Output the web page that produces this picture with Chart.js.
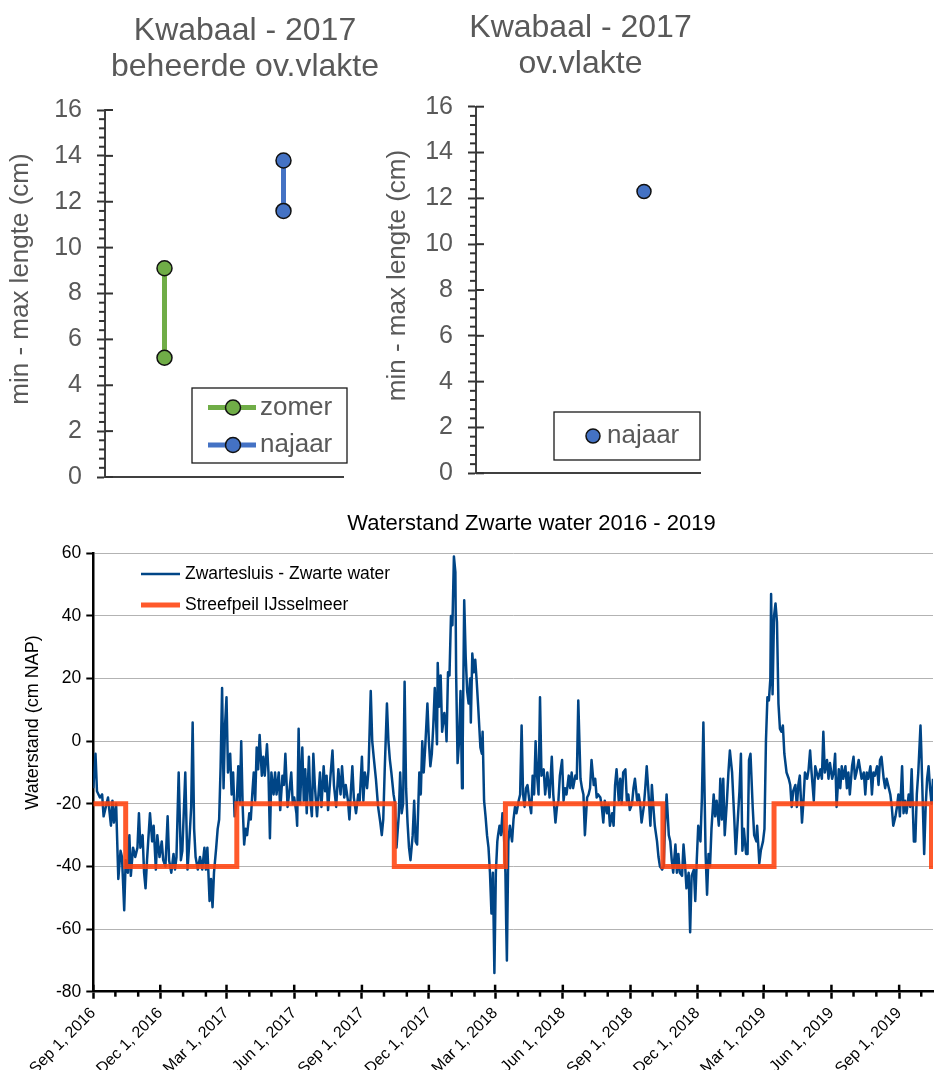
<!DOCTYPE html>
<html><head><meta charset="utf-8">
<script src="https://cdn.jsdelivr.net/npm/chart.js@4.4.1/dist/chart.umd.min.js"></script>
<style>
html,body{margin:0;padding:0;overflow:hidden;background:#fff;width:934px;height:1070px;}
canvas{position:absolute;}
</style></head><body>
<canvas id="cA" width="490" height="512" style="left:0;top:0;width:490px;height:512px"></canvas>
<canvas id="cB" width="401" height="512" style="left:380px;top:0;width:401px;height:512px"></canvas>
<canvas id="cC" width="1063" height="570" style="left:0;top:500px;width:1063px;height:570px"></canvas>
<script>
// ---------- data: top charts ----------
const groups = ['zomer', 'najaar'];
const groupColors = ['#70AD47', '#4472C4'];
const beheerdeMax = [9.1, 13.8];
const beheerdeMin = [5.2, 11.6];
const ovVlakteGroups = ['najaar'];
const ovVlakteValue = [12.3];

// ---------- data: water level ----------
const startDate = '2016-09-01';           // day 0
const axisEndDate = '2019-10-17';
// days since startDate
const levelDay = [0,3,5,9,12,14,17,20,24,26,28,31,34,37,39,42,44,47,49,51,54,57,60,62,64,67,69,71,73,77,80,82,85,87,90,93,95,98,101,103,106,109,111,113,116,119,121,125,128,130,133,135,137,139,142,145,148,151,153,155,158,160,162,164,167,169,171,173,175,177,179,181,183,186,188,190,192,195,197,199,201,203,205,207,209,212,214,216,218,220,222,224,226,229,231,233,236,238,240,242,245,247,249,252,254,257,259,261,264,266,269,271,273,276,277,279,281,284,286,288,290,293,295,297,299,301,304,306,308,310,313,315,317,319,
322,325,327,330,333,336,338,341,343,346,348,350,352,354,357,360,362,365,367,369,372,374,377,379,381,384,387,390,392,394,396,399,401,403,405,408,410,412,415,417,419,421,423,425,427,429,431,434,436,438,440,443,445,447,449,451,454,456,458,460,462,464,467,468,470,472,474,477,479,480,482,484,486,488,490,492,493,495,497,499,501,502,504,506,508,510,512,513,515,517,519,521,523,526,528,529,531,533,535,537,539,541,543,545,547,549,550,552,554,556,558,560,561,562,564,566,569,571,573,575,578,580,582,584,586,588,590,593,595,597,599,601,603,605,607,
609,612,614,617,620,623,625,628,630,632,634,637,639,641,643,646,648,650,652,655,657,659,662,664,666,668,671,673,675,677,680,682,684,686,689,691,693,695,698,700,702,705,707,709,711,714,716,718,720,723,725,727,729,732,734,736,739,741,743,745,748,750,752,754,757,759,761,763,766,768,770,773,775,777,779,782,784,786,788,791,793,795,797,800,802,804,806,809,811,813,816,818,820,822,825,827,829,830,832,834,836,838,840,843,845,847,850,852,854,856,858,861,863,865,868,871,873,875,878,880,882,884,887,889,891,893,896,898,901,902,905,907,910,912,914,916,918,920,921,923,925,927,929,931,933,935,937,939,942,945,947,949,951,954,956,958,960,963,965,967,970,972,974,976,979,981,983,985,988,990,992,994,997,999,1001,1004,1006,1008,1010,1013,1015,1017,1019,1022,1024,1026,1028,1031,1033,1035,1037,1040,1042,1044,1047,1049,1051,1053,1056,1058,1060,1062,1065,1067,1069,1071,1074,1076,1078,1081,1083,1085,1087,1090,1092,1094,1096,1099,1101,1103,1105,1108,1110,1112,1115,1117,1119,1121,1124,1125,1127,1129,1131,1133,1135,1137,1139,1141];
// water level, cm NAP
const levelCm = [-15,-4,-16,-18,-17,-24,-21,-18,-27,-19,-26,-20,-44,-35,-37,-54,-38,-42,-30,-43,-34,-37,-34,-23,-34,-30,-42,-47,-38,-23,-32,-27,-41,-30,-37,-32,-38,-40,-24,-38,-42,-36,-41,-37,-10,-38,-35,-10,-41,-34,-21,6,-28,-37,-41,-37,-41,-34,-41,-34,-51,-44,-53,-42,-34,-28,-25,-8,17,-15,5,14,-10,-4,-17,-10,-24,-19,-8,-20,0,-21,-33,-28,-30,-23,-25,-17,-10,-19,-2,-9,2,-11,-5,-11,-1,-10,-31,-10,-17,-10,-17,-10,-22,-11,-14,-4,-21,-17,-10,-20,-18,-23,-27,4,-20,-2,-19,-9,-23,-5,-19,-24,-4,-14,-24,-17,-10,-21,-8,-16,-11,-22,
-12,-3,-14,-21,-9,-17,-8,-18,-14,-19,-25,-16,-8,-18,-23,-17,-19,-5,-19,-10,-15,-9,16,0,-5,-12,-21,-26,-30,-25,-9,12,0,-6,-10,-17,-20,-34,-24,-10,-23,-20,19,-15,-26,-34,-38,-30,-19,-32,-33,-10,-17,0,-10,-2,12,0,-8,-4,5,17,-1,25,11,21,3,9,5,0,22,21,40,37,59,54,22,-7,0,16,-15,0,45,27,16,12,20,6,28,22,26,19,11,-2,-4,3,-19,-24,-30,-34,-42,-55,-42,-74,-42,-32,-30,-27,-30,-23,-30,-42,-58,-70,-32,-27,-32,-25,-21,-23,-19,-17,5,-17,-21,-15,-14,-20,-23,-11,-17,0,-11,-17,14,
-11,-9,-17,-10,-18,-5,-17,-26,-21,-19,-11,-6,-19,-15,-17,-11,-15,-10,-15,-11,-12,13,-12,-15,-17,-30,-18,-17,-15,-6,-14,-12,-18,-17,-18,-21,-26,-19,-23,-20,-27,-23,-27,-14,-9,-19,-12,-20,-10,-9,-19,-17,-22,-20,-15,-12,-19,-17,-20,-26,-21,-15,-8,-15,-27,-14,-21,-27,-32,-37,-40,-41,-40,-26,-17,-30,-32,-38,-42,-33,-42,-36,-42,-43,-33,-39,-47,-42,-61,-43,-41,-51,-38,-27,-32,-18,6,-8,-36,-49,-36,-40,-28,-17,-24,-19,-27,-12,-25,-12,-30,-19,-10,-3,-10,-25,-36,-28,-16,-4,-35,-28,-36,-36,-6,-4,-21,-30,-32,-27,-39,-35,-32,-28,0,14,13,20,47,15,40,44,38,12,4,3,5,-4,-10,-12,-14,-21,-16,-14,-21,-14,-11,-26,-19,-10,-12,-9,-3,-10,-19,-8,-10,-12,-9,-12,3,-10,-6,-12,-7,-12,-10,-4,-21,-9,-15,-8,-12,-8,-15,-10,-17,-8,-5,-12,-10,-6,-9,-12,-10,-17,-10,-12,-8,-17,-10,-11,-8,-14,-6,-5,-12,-15,-12,-15,-17,-21,-27,-24,-21,-17,-24,-8,-23,-19,-23,-17,-21,-9,-32,-32,-17,-10,5,-2,-19,-36,-21,-12,-8,-15,-20,-12];
// Streefpeil IJsselmeer: date of change and new level (cm NAP)
const targetDates = ['2016-09-01','2016-10-15','2017-03-15','2017-10-15','2018-03-15','2018-10-15','2019-03-15','2019-10-15','2019-10-20'];
const targetCm = [-20,-40,-20,-40,-20,-40,-20,-40,-40];
// axis tick dates / labels
const tickDates = ['2016-09-01','2016-12-01','2017-03-01','2017-06-01','2017-09-01','2017-12-01','2018-03-01','2018-06-01','2018-09-01','2018-12-01','2019-03-01','2019-06-01','2019-09-01'];
const tickLabels = ['Sep 1, 2016','Dec 1, 2016','Mar 1, 2017','Jun 1, 2017','Sep 1, 2017','Dec 1, 2017','Mar 1, 2018','Jun 1, 2018','Sep 1, 2018','Dec 1, 2018','Mar 1, 2019','Jun 1, 2019','Sep 1, 2019'];
const seriesNames = ['Zwartesluis - Zwarte water', 'Streefpeil IJsselmeer'];

// ---------- helpers ----------
const FONT = "'Liberation Sans', Arial, Helvetica, sans-serif";
const GRAY = '#595959';
const DAY = 86400000;
function utc(s){ const p = s.split('-').map(Number); return Date.UTC(p[0], p[1]-1, p[2]); }
const t0 = utc(startDate);
function dayOf(s){ return Math.round((utc(s) - t0) / DAY); }
const axisEnd = dayOf(axisEndDate);
const monthStarts = [];
{ let y = 2016, m = 8; while (true) { const d = Math.round((Date.UTC(y, m, 1) - t0) / DAY); if (d > axisEnd) break; monthStarts.push(d); m++; if (m > 11) { m = 0; y++; } } }
const majorDays = new Set(tickDates.map(dayOf));

// ---------- plugins ----------
const yMinorTicks = {
  id: 'yMinorTicks',
  afterDraw(chart) {
    const s = chart.scales.y, ctx = chart.ctx, x = chart.chartArea.left;
    ctx.save(); ctx.strokeStyle = '#333'; ctx.lineWidth = 2;
    for (let i = 0; i <= 40; i++) {
      const y = s.getPixelForValue(i * 0.4);
      ctx.beginPath();
      if (i % 5 === 0) { ctx.moveTo(x, y); ctx.lineTo(x + 8, y); }
      else { ctx.moveTo(x - 6, y); ctx.lineTo(x, y); }
      ctx.stroke();
    }
    ctx.restore();
  }
};
const boxLegend = {
  id: 'boxLegend',
  afterDraw(chart, args, o) {
    const ctx = chart.ctx;
    ctx.save();
    ctx.strokeStyle = '#1a1a1a'; ctx.lineWidth = 1.3;
    ctx.strokeRect(o.box[0], o.box[1], o.box[2], o.box[3]);
    ctx.font = o.size + 'px ' + FONT; ctx.textBaseline = 'middle'; ctx.textAlign = 'left';
    chart.data.datasets.forEach((ds, i) => {
      const y = o.rows[i];
      if (o.lineX) {
        ctx.strokeStyle = ds.borderColor; ctx.lineWidth = ds.borderWidth;
        ctx.beginPath(); ctx.moveTo(o.lineX[0], y); ctx.lineTo(o.lineX[1], y); ctx.stroke();
      }
      ctx.beginPath(); ctx.arc(o.markX, y, ds.pointRadius, 0, Math.PI * 2);
      ctx.fillStyle = ds.pointBackgroundColor; ctx.fill();
      ctx.lineWidth = ds.pointBorderWidth; ctx.strokeStyle = ds.pointBorderColor; ctx.stroke();
      ctx.fillStyle = GRAY; ctx.fillText(ds.label, o.textX, y);
    });
    ctx.restore();
  }
};
const xMinorTicks = {
  id: 'xMinorTicks',
  afterDraw(chart) {
    const s = chart.scales.x, ctx = chart.ctx, y = chart.chartArea.bottom;
    ctx.save(); ctx.strokeStyle = '#000'; ctx.lineWidth = 2.5;
    monthStarts.forEach(d => {
      const x = s.getPixelForValue(d);
      ctx.beginPath();
      if (majorDays.has(d)) { ctx.moveTo(x, y - 7); ctx.lineTo(x, y); }
      else { ctx.moveTo(x, y); ctx.lineTo(x, y + 5); }
      ctx.stroke();
    });
    ctx.restore();
  }
};
const lineLegend = {
  id: 'lineLegend',
  afterDraw(chart, args, o) {
    const ctx = chart.ctx;
    ctx.save();
    ctx.font = o.size + 'px ' + FONT; ctx.textBaseline = 'middle'; ctx.textAlign = 'left'; ctx.fillStyle = '#000';
    chart.data.datasets.forEach((ds, i) => {
      const y = o.y0 + i * o.dy;
      ctx.strokeStyle = ds.borderColor; ctx.lineWidth = ds.borderWidth; ctx.lineCap = 'butt';
      ctx.beginPath(); ctx.moveTo(o.x0, y); ctx.lineTo(o.x1, y); ctx.stroke();
      ctx.fillText(ds.label, o.tx, y);
    });
    ctx.restore();
  }
};

// ---------- top chart factory ----------
function topOptions(cfg) {
  return {
    responsive: false, animation: false, events: [],
    layout: { padding: 0 },
    plugins: {
      legend: { display: false }, tooltip: { enabled: false },
      title: { display: true, text: cfg.title, color: GRAY,
        font: { family: FONT, size: 32, weight: 'normal', lineHeight: 1.125 },
        padding: { top: cfg.titleTop, bottom: cfg.titleBottom } },
      boxLegend: cfg.legend
    },
    scales: {
      x: { type: 'category', offset: true,
        ticks: { display: false }, grid: { display: false },
        border: { display: true, color: '#404040', width: 2 },
        afterFit: s => { s.height = cfg.xh; } },
      y: { type: 'linear', min: 0, max: 16,
        ticks: { stepSize: 2, color: GRAY, font: { family: FONT, size: 25 }, padding: 15 },
        grid: { drawOnChartArea: false, tickLength: 8, tickColor: '#333', tickWidth: 2 },
        border: { display: true, color: '#404040', width: 2 },
        title: { display: true, text: '    min - max lengte (cm)', color: GRAY,
          font: { family: FONT, size: 26, lineHeight: 1.2 }, padding: { top: cfg.ytPad, bottom: 0 } },
        afterFit: s => { s.width = cfg.yw; } },
      pad: { type: 'linear', axis: 'y', position: 'right', display: true,
        ticks: { display: false }, grid: { display: false }, border: { display: false },
        afterFit: s => { s.width = cfg.rw; } }
    }
  };
}

new Chart(document.getElementById('cA'), {
  type: 'line',
  data: {
    labels: groups,
    datasets: groups.map((g, i) => ({
      label: g,
      data: [{ x: g, y: beheerdeMax[i] }, { x: g, y: beheerdeMin[i] }],
      borderColor: groupColors[i], backgroundColor: groupColors[i], borderWidth: 5,
      pointRadius: 7.5, pointBorderWidth: 1.5, pointBorderColor: '#111', pointBackgroundColor: groupColors[i]
    }))
  },
  options: topOptions({
    title: ['Kwabaal - 2017', 'beheerde ov.vlakte'], titleTop: 13, titleBottom: 25,
    xh: 35, yw: 105, rw: 147, ytPad: 5.4,
    legend: { box: [192, 388, 155, 75], rows: [407.5, 445], lineX: [208, 256], markX: 233, textX: 260, size: 26 }
  }),
  plugins: [yMinorTicks, boxLegend]
});

new Chart(document.getElementById('cB'), {
  type: 'line',
  data: {
    labels: groups,
    datasets: ovVlakteGroups.map((g, i) => ({
      label: g,
      data: [{ x: g, y: ovVlakteValue[i] }],
      showLine: false,
      borderColor: groupColors[groups.indexOf(g)], backgroundColor: groupColors[groups.indexOf(g)], borderWidth: 5,
      pointRadius: 7, pointBorderWidth: 1.5, pointBorderColor: '#111', pointBackgroundColor: groupColors[groups.indexOf(g)]
    }))
  },
  options: topOptions({
    title: ['Kwabaal - 2017', 'ov.vlakte'], titleTop: 10.6, titleBottom: 24.1,
    xh: 38.7, yw: 96, rw: 81, ytPad: 2.1,
    legend: { box: [174, 412, 146, 48], rows: [436], lineX: null, markX: 213, textX: 227, size: 26 }
  }),
  plugins: [yMinorTicks, boxLegend]
});

// ---------- bottom chart ----------
new Chart(document.getElementById('cC'), {
  type: 'line',
  data: {
    datasets: [
      { label: seriesNames[0], data: levelDay.map((d, i) => ({ x: d, y: levelCm[i] })),
        borderColor: '#004586', borderWidth: 2.5, pointRadius: 0, tension: 0, order: 1,
        borderJoinStyle: 'round' },
      { label: seriesNames[1], data: targetDates.map((d, i) => ({ x: dayOf(d), y: targetCm[i] })),
        borderColor: 'rgba(255,66,14,0.88)', borderWidth: 5, pointRadius: 0, stepped: true, order: 0 }
    ]
  },
  options: {
    responsive: false, animation: false, events: [],
    layout: { padding: 0 },
    plugins: {
      legend: { display: false }, tooltip: { enabled: false },
      title: { display: true, text: 'Waterstand Zwarte water 2016 - 2019', color: '#000',
        font: { family: FONT, size: 22, weight: 'normal', lineHeight: 1.2 },
        padding: { top: 11.2, bottom: 15.7 } },
      lineLegend: { x0: 141, x1: 180, tx: 185, y0: 74, dy: 31, size: 17.5 }
    },
    scales: {
      x: { type: 'linear', min: 0, max: axisEnd,
        afterBuildTicks: s => { s.ticks = tickDates.map(d => ({ value: dayOf(d) })); },
        ticks: { autoSkip: false, maxRotation: 45, minRotation: 45, color: '#000',
          font: { family: FONT, size: 16 }, padding: 5,
          callback: (v, i) => tickLabels[i] },
        grid: { drawOnChartArea: false, tickLength: 7, tickColor: '#000', tickWidth: 2.5 },
        border: { display: true, color: '#000', width: 2.5 },
        afterFit: s => { s.height = 78.3; } },
      y: { type: 'linear', min: -80, max: 60,
        ticks: { stepSize: 20, color: '#000', font: { family: FONT, size: 17.5 }, padding: 5 },
        grid: { color: '#b3b3b3', lineWidth: 1, tickLength: 7, tickColor: '#000', tickWidth: 2 },
        border: { display: true, color: '#000', width: 2.5 },
        title: { display: true, text: '                    Waterstand (cm NAP)', color: '#000',
          font: { family: FONT, size: 18, lineHeight: 1.2 }, padding: { top: 22, bottom: 0 } },
        afterFit: s => { s.width = 93.3; } },
      pad: { type: 'linear', axis: 'y', position: 'right', display: true,
        ticks: { display: false }, grid: { display: false }, border: { display: false },
        afterFit: s => { s.width = 130; } }
    }
  },
  plugins: [xMinorTicks, lineLegend]
});
</script>
</body></html>
